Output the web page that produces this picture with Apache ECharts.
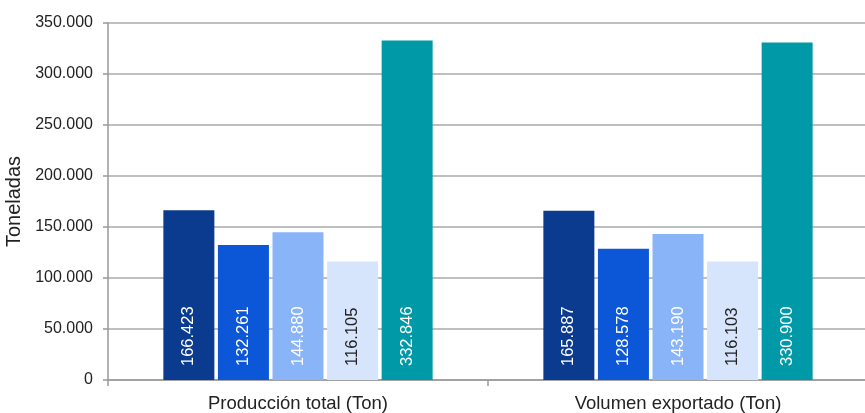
<!DOCTYPE html>
<html>
<head>
<meta charset="utf-8">
<script src="https://cdn.jsdelivr.net/npm/echarts@6/dist/echarts.min.js"></script>
<style>
html,body{margin:0;padding:0;background:#fff;}
#c{width:865px;height:413px;}
</style>
</head>
<body>
<div id="c"></div>
<script>
const categories = ['Producción total (Ton)', 'Volumen exportado (Ton)'];
const serie1 = [166423, 165887];
const serie2 = [132261, 128578];
const serie3 = [144880, 143190];
const serie4 = [116105, 116103];
const serie5 = [332846, 330900];
const yTicks = [0, 50000, 100000, 150000, 200000, 250000, 300000, 350000];

const seriesData = [serie1, serie2, serie3, serie4, serie5];
const colors = ['#0B3B8F', '#0B57D8', '#8AB4F8', '#D6E5FB', '#0099A8'];
const labelColors = ['#ffffff', '#ffffff', '#ffffff', '#222222', '#ffffff'];

function fmt(v) {
  return String(Math.round(v)).replace(/\B(?=(\d{3})+(?!\d))/g, '.');
}

const chart = echarts.init(document.getElementById('c'), null, {renderer: 'canvas'});
chart.setOption({
  animation: false,
  backgroundColor: '#ffffff',
  grid: {left: 108, top: 23, bottom: 33, width: 760, containLabel: false, outerBoundsMode: 'none'},
  xAxis: {
    type: 'category',
    data: categories,
    axisLine: {lineStyle: {color: '#999999', width: 1.5}},
    axisTick: {show: true, length: 6, interval: 0, lineStyle: {color: '#999999', width: 1.5}},
    axisLabel: {color: '#222222', fontFamily: 'Liberation Sans, Arial', fontSize: 18.5, margin: 14}
  },
  yAxis: {
    type: 'value',
    min: yTicks[0],
    max: yTicks[yTicks.length - 1],
    interval: yTicks[1] - yTicks[0],
    name: 'Toneladas',
    nameLocation: 'middle',
    nameGap: 71,
    nameRotate: 90,
    nameTextStyle: {color: '#222222', fontFamily: 'Liberation Sans, Arial', fontSize: 20},
    axisLine: {show: true, lineStyle: {color: '#999999', width: 1.5}},
    axisTick: {show: true, length: 5, lineStyle: {color: '#999999', width: 1.5}},
    axisLabel: {color: '#222222', fontFamily: 'Liberation Sans, Arial', fontSize: 16, margin: 15, formatter: fmt},
    splitLine: {lineStyle: {color: '#aaaaaa', width: 1.5}}
  },
  series: seriesData.map((d, i) => ({
    type: 'bar',
    name: 'Serie ' + (i + 1),
    data: d,
    barWidth: 51,
    barGap: '7%',
    itemStyle: {color: colors[i]},
    label: {
      show: true,
      position: 'insideBottom',
      rotate: 90,
      align: 'left',
      verticalAlign: 'middle',
      distance: 14,
      color: labelColors[i],
      fontFamily: 'Liberation Sans, Arial',
      fontSize: 16.5,
      formatter: p => fmt(p.value)
    }
  }))
});
</script>
</body>
</html>
